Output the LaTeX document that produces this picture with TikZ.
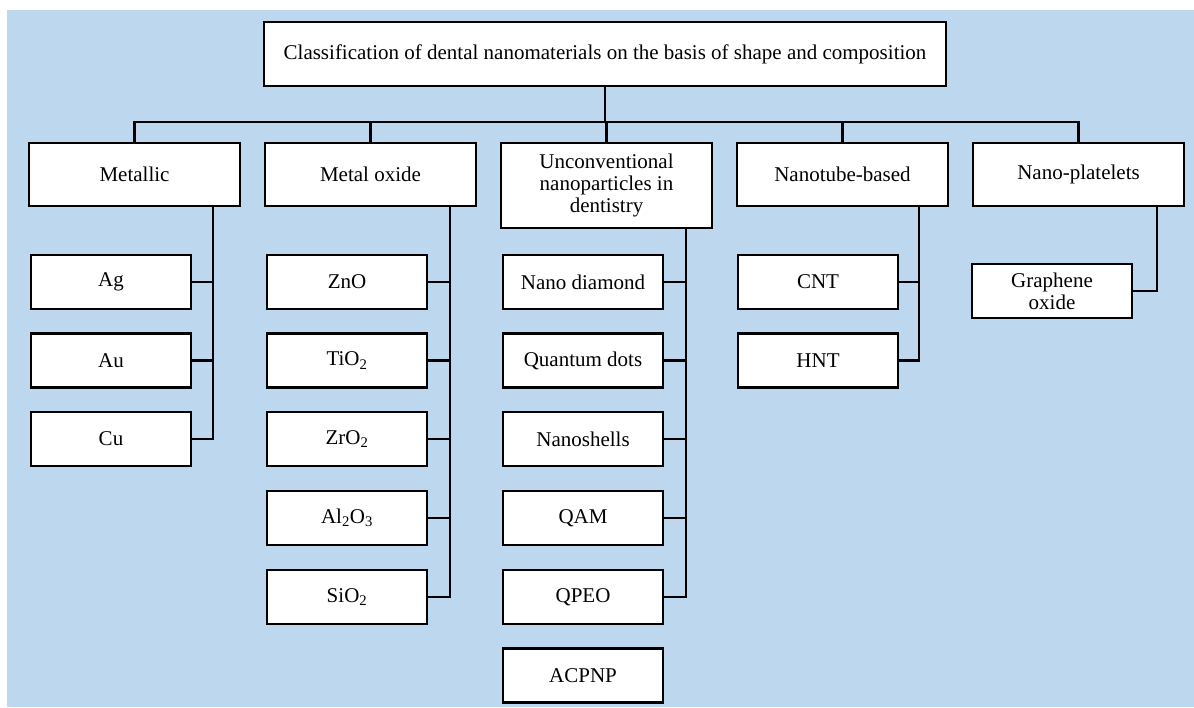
\documentclass[tikz,border=0pt]{standalone}
\usepackage{fontspec}
\setmainfont{Liberation Serif}
\definecolor{bgblue}{RGB}{189,215,238}
\begin{document}
\begin{tikzpicture}[x=1pt,y=-1pt,
  every node/.style={font=\fontsize{21}{22}\selectfont},
  box/.style={draw, fill=white, line width=2.6pt, inner sep=0pt, align=center},
  topbox/.style={box, minimum width=682pt, minimum height=64pt},
  catbox/.style={box, minimum width=211pt, minimum height=63pt},
  leafbox/.style={box, minimum width=160pt, minimum height=54pt},
  conn/.style={line width=2.5pt}
]
\useasboundingbox (0,0) rectangle (1194,707);
\fill[bgblue] (7,10) rectangle (1194,707);

% top
\node[topbox] (top) at (605,54) {Classification of dental nanomaterials on the basis of shape and composition};

% categories
\node[catbox] (metallic) at (134.5,174.5) {Metallic};
\node[catbox] (oxide) at (370.5,174.5) {Metal oxide};
\node[catbox, minimum height=85pt] (unconv) at (606.5,185.5) {Unconventional\\nanoparticles in\\dentistry};
\node[catbox] (tube) at (842.5,174.5) {Nanotube-based};
\node[catbox] (plate) at (1078.5,174.5) {Nano-platelets};

% bus
\coordinate (bus) at (0,122);
\draw[conn] (top.south) -- (top.south |- bus);
\draw[conn] (metallic.north) -- (metallic.north |- bus) -- (plate.north |- bus) -- (plate.north);
\draw[conn] (oxide.north) -- (oxide.north |- bus);
\draw[conn] (unconv.north) -- (unconv.north |- bus);
\draw[conn] (tube.north) -- (tube.north |- bus);

% metallic leaves
\node[leafbox] (ag) at (111,282) {Ag};
\node[leafbox] (au) at (111,360.5) {Au};
\node[leafbox] (cu) at (111,439) {Cu};
\coordinate (mv) at (213,206);
\draw[conn] (mv) |- (cu.east);
\draw[conn] (ag.east) -- (ag.east -| mv);
\draw[conn] (au.east) -- (au.east -| mv);

% metal oxide leaves
\node[leafbox] (zno) at (347,282) {ZnO};
\node[leafbox] (tio) at (347,360.5) {TiO\textsubscript{2}};
\node[leafbox] (zro) at (347,439) {ZrO\textsubscript{2}};
\node[leafbox] (alo) at (347,518) {Al\textsubscript{2}O\textsubscript{3}};
\node[leafbox] (sio) at (347,597) {SiO\textsubscript{2}};
\coordinate (ov) at (450,206);
\draw[conn] (ov) |- (sio.east);
\draw[conn] (zno.east) -- (zno.east -| ov);
\draw[conn] (tio.east) -- (tio.east -| ov);
\draw[conn] (zro.east) -- (zro.east -| ov);
\draw[conn] (alo.east) -- (alo.east -| ov);

% unconventional leaves
\node[leafbox] (nd) at (583,282) {Nano diamond};
\node[leafbox] (qd) at (583,360.5) {Quantum dots};
\node[leafbox] (ns) at (583,439) {Nanoshells};
\node[leafbox] (qam) at (583,518) {QAM};
\node[leafbox] (qpeo) at (583,597) {QPEO};
\node[leafbox] (acpnp) at (583,675.5) {ACPNP};
\coordinate (uv) at (686,228);
\draw[conn] (uv) |- (qpeo.east);
\draw[conn] (nd.east) -- (nd.east -| uv);
\draw[conn] (qd.east) -- (qd.east -| uv);
\draw[conn] (ns.east) -- (ns.east -| uv);
\draw[conn] (qam.east) -- (qam.east -| uv);

% nanotube leaves
\node[leafbox] (cnt) at (818,282) {CNT};
\node[leafbox] (hnt) at (818,360.5) {HNT};
\coordinate (tv) at (919,206);
\draw[conn] (tv) |- (hnt.east);
\draw[conn] (cnt.east) -- (cnt.east -| tv);

% platelets leaf
\node[leafbox] (go) at (1052,291) {Graphene\\oxide};
\coordinate (pv) at (1157,206);
\draw[conn] (pv) |- (go.east);
\end{tikzpicture}
\end{document}
